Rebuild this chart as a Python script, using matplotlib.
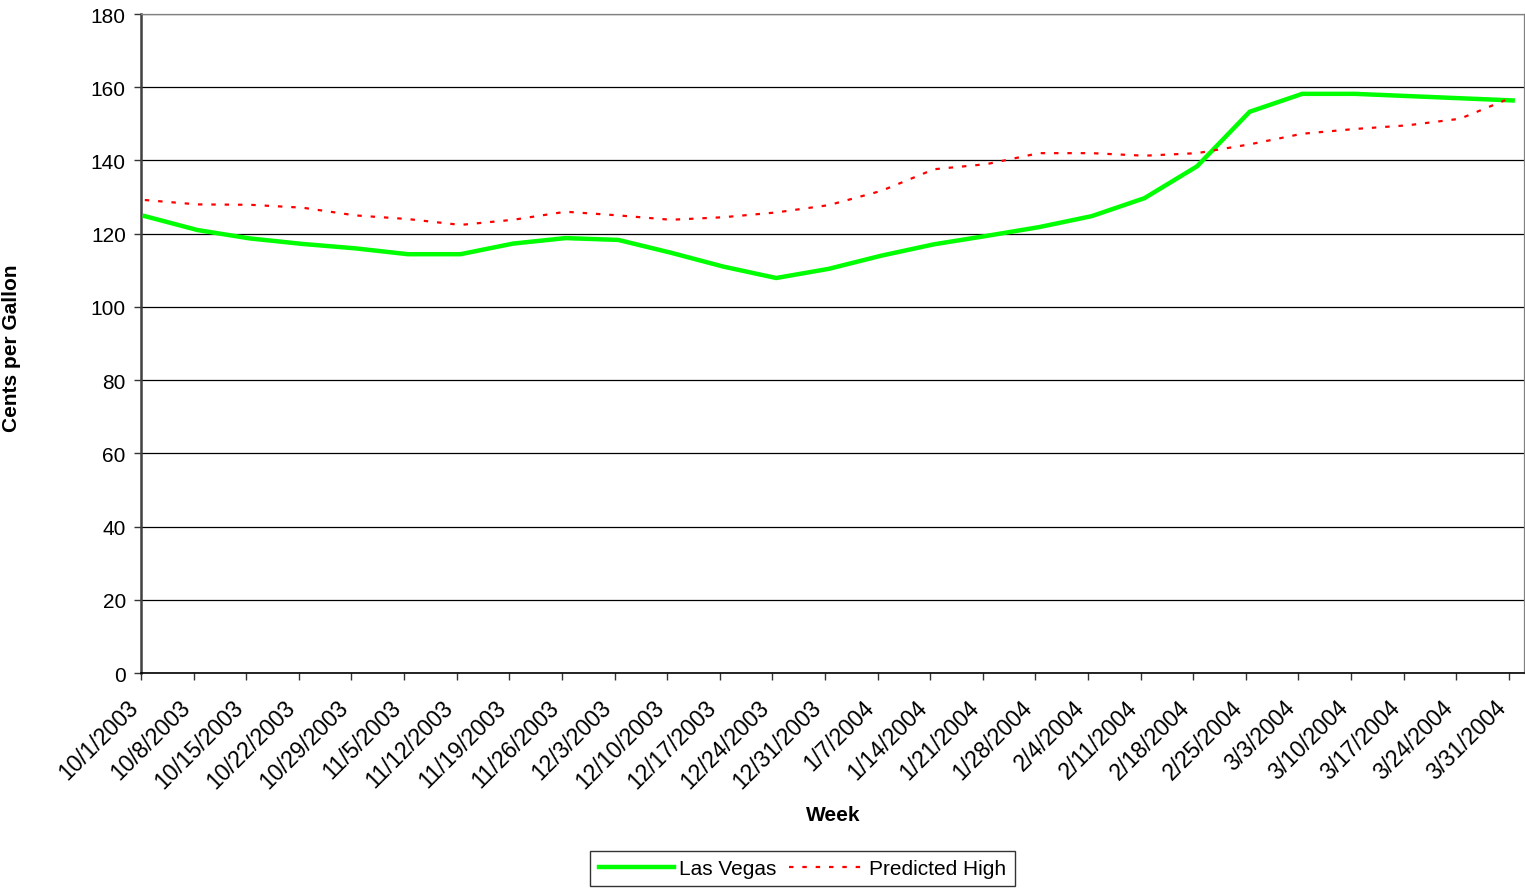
import matplotlib

matplotlib.use("Agg")
import matplotlib.pyplot as plt
import matplotlib.transforms as mtransforms
import pandas as pd

# 每周日期（横轴刻度标签）
weeks = [
    "10/1/2003", "10/8/2003", "10/15/2003", "10/22/2003", "10/29/2003",
    "11/5/2003", "11/12/2003", "11/19/2003", "11/26/2003", "12/3/2003",
    "12/10/2003", "12/17/2003", "12/24/2003", "12/31/2003", "1/7/2004",
    "1/14/2004", "1/21/2004", "1/28/2004", "2/4/2004", "2/11/2004",
    "2/18/2004", "2/25/2004", "3/3/2004", "3/10/2004", "3/17/2004",
    "3/24/2004", "3/31/2004",
]

# 拉斯维加斯油价（美分/加仑）
las_vegas = [
    124.8, 121.0, 118.7, 117.2, 116.0, 114.4, 114.4, 117.3, 118.8, 118.3,
    114.8, 111.0, 107.9, 110.4, 114.0, 117.1, 119.4, 121.8, 124.8, 129.7,
    138.4, 153.3, 158.2, 158.2, 157.6, 157.0, 156.4,
]

# 预测高值
predicted_high = [
    129.2, 128.0, 127.9, 127.1, 125.0, 124.0, 122.4, 123.8, 126.0, 125.0,
    123.8, 124.5, 125.8, 127.8, 131.7, 137.6, 139.0, 142.0, 142.0, 141.3,
    142.0, 144.4, 147.3, 148.6, 149.6, 151.4, 157.3,
]

y_ticks = [0, 20, 40, 60, 80, 100, 120, 140, 160, 180]


def main():
    plt.rcParams["font.family"] = ["Liberation Sans", "DejaVu Sans"]

    dates = pd.to_datetime(weeks, format="%m/%d/%Y")
    day_offsets = (dates - dates[0]).days.to_numpy()
    # 日期轴：刻度在每天的起点，数据点在当天中间
    x_points = day_offsets + 0.5

    figure = plt.figure(figsize=(15.25, 8.95), dpi=100)
    axis = figure.add_axes([0.0925, 0.2469, 0.9068, 0.7363])

    for value in y_ticks:
        axis.axhline(value, color="black", linewidth=0.9, zorder=1)

    axis.plot(
        x_points,
        las_vegas,
        color="#00ff00",
        linewidth=3.2,
        solid_joinstyle="miter",
        label="Las Vegas",
        zorder=3,
    )
    axis.plot(
        x_points,
        predicted_high,
        color="#ff0000",
        linewidth=1.6,
        linestyle=(0, (2, 4)),
        label="Predicted High",
        zorder=4,
    )

    axis.set_xlim(0, day_offsets[-1] + 2)
    axis.set_ylim(0, 180)
    axis.set_yticks(y_ticks)
    axis.set_xticks(day_offsets)
    axis.set_xticklabels(
        weeks, rotation=45, ha="right", va="top", rotation_mode="anchor"
    )

    axis.tick_params(axis="both", length=5, width=1, color="#333333")
    axis.tick_params(axis="y", labelsize=15, pad=6)
    axis.tick_params(axis="x", labelsize=16.5, pad=4)

    # 斜排日期标签整体向左下挪一点
    shift = mtransforms.ScaledTranslation(-15 / 100, -10 / 100, figure.dpi_scale_trans)
    for label in axis.get_xticklabels():
        label.set_transform(label.get_transform() + shift)

    axis.spines["left"].set_color("#404040")
    axis.spines["left"].set_linewidth(1.8)
    axis.spines["bottom"].set_color("black")
    axis.spines["bottom"].set_linewidth(1.2)
    for side in ("top", "right"):
        axis.spines[side].set_color("#808080")
        axis.spines[side].set_linewidth(0.9)

    figure.text(
        12 / 1525, 1 - 348 / 895, "Cents per Gallon",
        rotation=90, ha="center", va="center", fontsize=15, fontweight="bold",
    )
    figure.text(
        833 / 1525, 1 - 816 / 895, "Week",
        ha="center", va="center", fontsize=15, fontweight="bold",
    )

    legend = figure.legend(
        loc="center",
        bbox_to_anchor=(802.5 / 1525, 1 - 869.5 / 895),
        ncol=2,
        fontsize=15,
        frameon=True,
        fancybox=False,
        edgecolor="black",
        handlelength=3.6,
        handletextpad=0.25,
        columnspacing=0.6,
        borderpad=0.4,
    )
    legend.get_frame().set_linewidth(1.0)

    figure.savefig("out.png", dpi=100)
    plt.close(figure)


if __name__ == "__main__":
    main()
